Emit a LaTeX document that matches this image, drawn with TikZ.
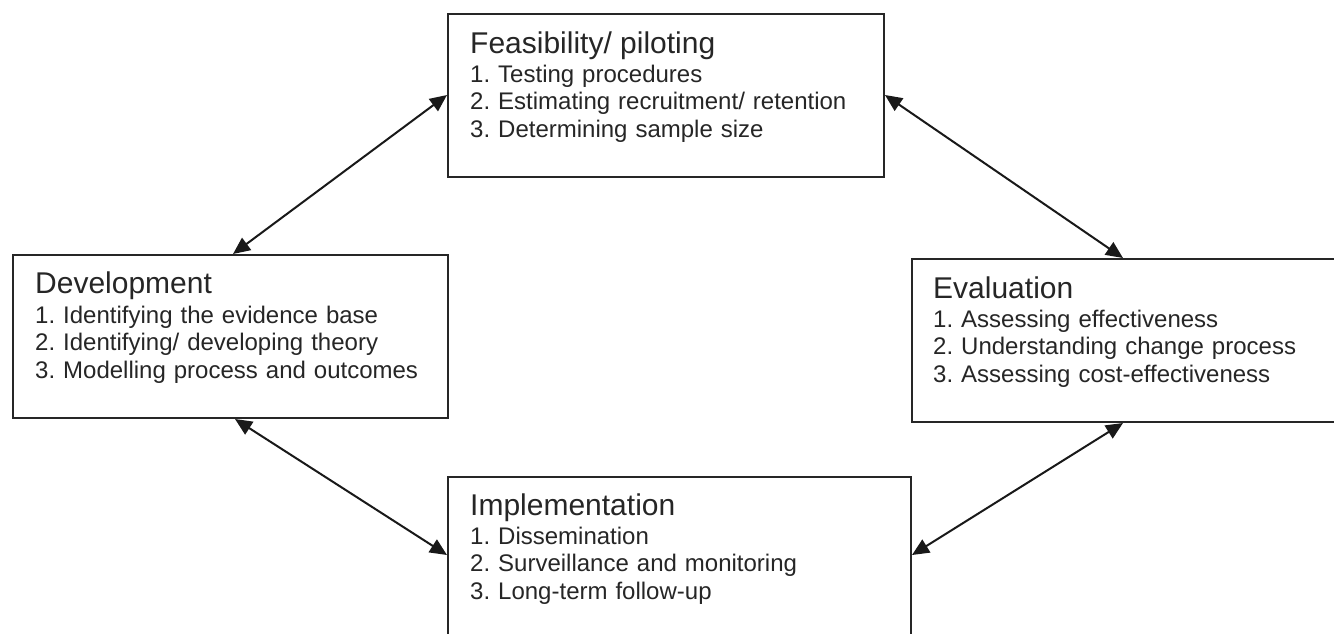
\documentclass[tikz,border=0pt]{standalone}
\usepackage{fontspec}
\setmainfont{Liberation Sans}
\usetikzlibrary{arrows.meta}
\frenchspacing
\tikzset{
  boxshape/.style={draw=black!85, line width=2pt, fill=white, rectangle, anchor=north west, inner sep=0pt},
  ttl/.style={anchor=base west, inner sep=0pt, font=\fontsize{30}{32}\selectfont\frenchspacing, text=black!85},
  items/.style={anchor=base west, inner sep=0pt, text width=420pt, align=left, font=\fontsize{24}{27.5}\selectfont\frenchspacing, text=black!85},
  link/.style={line width=2pt, draw=black!90, {Triangle[length=17pt,width=15pt]}-{Triangle[length=17pt,width=15pt]}}
}
\begin{document}
\begin{tikzpicture}[x=1pt,y=-1pt]
\useasboundingbox (0,0) rectangle (1334,633);
% boxes
\node[boxshape, minimum width=436pt, minimum height=163pt] (feas) at (447,13) {};
\node[boxshape, minimum width=435pt, minimum height=163pt] (dev) at (12,254) {};
\node[boxshape, minimum width=423pt, minimum height=163pt] (eval) at (911,258) {};
\node[boxshape, minimum width=463pt, minimum height=170pt] (impl) at (447,476) {};
% texts
\node[ttl] (feast) at (470,53) {Feasibility/ piloting};
\node[items] (feasi) at (470,82) {1. Testing procedures\\2. Estimating recruitment/ retention\\3. Determining sample size};
\node[ttl] (devt) at (35,293) {Development};
\node[items] (devi) at (35,323) {1. Identifying the evidence base\\2. Identifying/ developing theory\\3. Modelling process and outcomes};
\node[ttl] (evalt) at (933,298) {Evaluation};
\node[items] (evali) at (933,327) {1. Assessing effectiveness\\2. Understanding change process\\3. Assessing cost-effectiveness};
\node[ttl] (implt) at (470,515) {Implementation};
\node[items] (impli) at (470,544) {1. Dissemination\\2. Surveillance and monitoring\\3. Long-term follow-up};
% connector end points on box borders
\coordinate (dfA) at ([xshift=221pt]dev.north west);
\coordinate (dfB) at ([yshift=-82pt]feas.north west);
\coordinate (feA) at ([yshift=-82pt]feas.north east);
\coordinate (feB) at ([xshift=212pt]eval.north west);
\coordinate (diA) at ([xshift=223pt]dev.south west);
\coordinate (diB) at ([yshift=-79pt]impl.north west);
\coordinate (eiA) at ([xshift=212pt]eval.south west);
\coordinate (eiB) at ([yshift=-79pt]impl.north east);
\draw[link] (dfA) -- (dfB);
\draw[link] (feA) -- (feB);
\draw[link] (diA) -- (diB);
\draw[link] (eiA) -- (eiB);
\end{tikzpicture}
\end{document}
